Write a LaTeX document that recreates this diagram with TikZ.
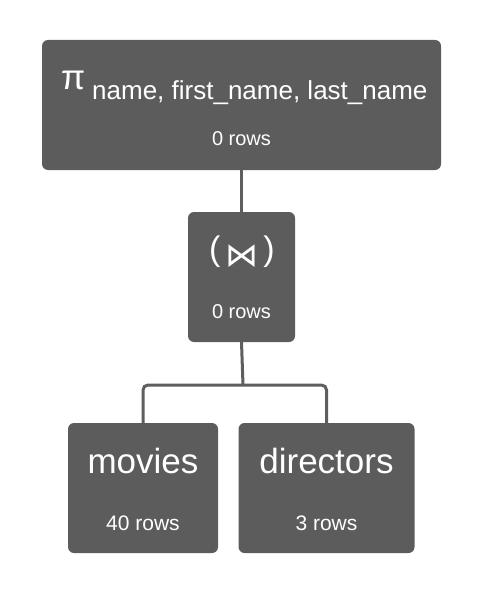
\documentclass[tikz,border=0pt]{standalone}
\usepackage{fontspec}
\setmainfont{Liberation Sans}
\newfontfamily\symfont{DejaVu Sans}
\definecolor{boxgray}{RGB}{92,92,92}
\definecolor{linegray}{RGB}{94,94,94}
\begin{document}
\begin{tikzpicture}[x=1pt,y=-1pt,
  opbox/.style={draw=none,fill=boxgray,rounded corners=6pt,inner sep=0pt},
  lbl/.style={text=white,inner sep=0pt,anchor=base},
  link/.style={draw=linegray,line width=3pt}]
  \useasboundingbox (0,0) rectangle (484,596);

  % operator boxes
  \node[opbox,minimum width=399pt,minimum height=130pt] (proj) at (241.5,105) {};
  \node[opbox,minimum width=107pt,minimum height=130pt] (join) at (241.5,277) {};
  \node[opbox,minimum width=150pt,minimum height=130pt] (movies) at (143,488) {};
  \node[opbox,minimum width=176pt,minimum height=130pt] (directors) at (326.5,488) {};

  % connectors
  \coordinate (fork) at (243,385);
  \draw[link] (proj.south) -- (join.north);
  \draw[link] (join.south) -- (fork);
  \draw[link,rounded corners=5pt] (movies.north) |- (fork) -| (directors.north);

  % projection labels
  \node[lbl,anchor=base west,font=\fontsize{35}{35}\selectfont] (pi) at (61,90) {π};
  \node[lbl,anchor=base west,font=\fontsize{26}{26}\selectfont] (projcols) at (92,100) {name, first\_name, last\_name};
  \node[lbl,font=\fontsize{20}{20}\selectfont] (projrows) at (241.5,146) {0 rows};

  % join labels
  \node[lbl,anchor=base west,font=\fontsize{34}{34}\selectfont] (lparen) at (209,260) {(};
  \node[text=white,inner sep=0pt,font=\symfont\fontsize{33}{33}\selectfont] (joinop) at (242,256) {⋈};
  \node[lbl,anchor=base east,font=\fontsize{34}{34}\selectfont] (rparen) at (275,260) {)};
  \node[lbl,font=\fontsize{20}{20}\selectfont] (joinrows) at (241.5,318) {0 rows};

  % relation labels
  \node[lbl,font=\fontsize{35}{35}\selectfont] (moviesname) at (143,473) {movies};
  \node[lbl,font=\fontsize{21}{21}\selectfont] (moviesrows) at (143,530) {40 rows};
  \node[lbl,font=\fontsize{35}{35}\selectfont] (directorsname) at (326.5,473) {directors};
  \node[lbl,font=\fontsize{21}{21}\selectfont] (directorsrows) at (326.5,530) {3 rows};
\end{tikzpicture}
\end{document}
